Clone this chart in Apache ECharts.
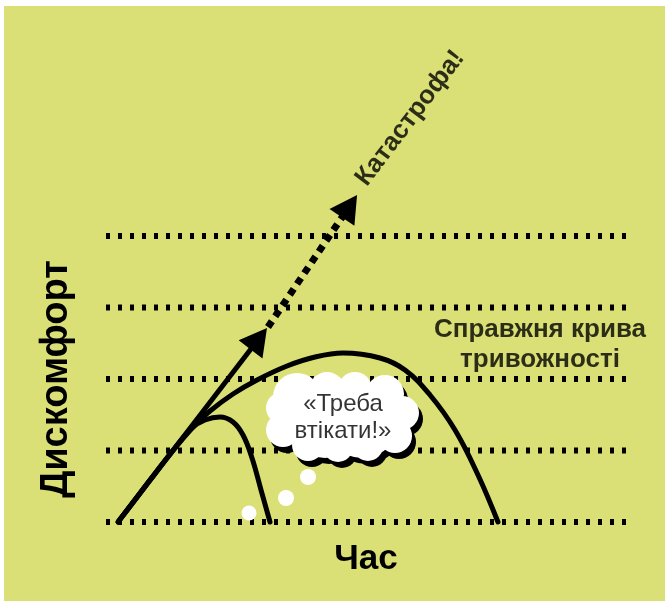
<!DOCTYPE html>
<html>
<head>
<meta charset="utf-8">
<script src="https://cdn.jsdelivr.net/npm/echarts@6/dist/echarts.min.js"></script>
<style>
  html, body { margin: 0; padding: 0; background: #ffffff; }
  #chart { position: absolute; left: 4px; top: 6px; width: 661px; height: 595px; }
</style>
</head>
<body>
<div id="chart"></div>
<script>
// ---- data (time on x: 0..100, discomfort on y: levels 0..4) ----
const levels = [0, 1, 2, 3, 4];
const xTitle = 'Час';
const yTitle = 'Дискомфорт';

// "true" anxiety curve
const anxietyCurve = [
  [2.31, 0], [8.46, 0.587], [13.27, 1.035], [17.12, 1.357], [20.00, 1.552],
  [24.42, 1.790], [29.04, 1.986], [34.81, 2.182], [40.19, 2.308], [45.58, 2.364],
  [52.69, 2.294], [57.50, 2.126], [62.31, 1.776], [67.12, 1.287], [71.54, 0.657], [75.38, 0]
];
// short panic curve
const panicCurve = [
  [2.31, 0], [8.46, 0.587], [13.27, 1.035], [16.54, 1.315], [19.04, 1.427],
  [21.92, 1.469], [24.42, 1.399], [26.35, 1.217], [28.08, 0.895], [29.81, 0.448], [31.54, 0]
];
// expected escalation (solid) and catastrophe (dotted) arrows
const escalation = [[2.31, 0], [29.38, 2.564]];
const catastrophe = [[31.15, 2.727], [46.83, 4.417]];

// thought cloud puffs [x, y, diameter]
const cloudPuffs = [
  [36.73, 1.748, 48], [42.50, 1.846, 36], [47.88, 1.860, 34], [53.65, 1.790, 38],
  [56.92, 1.524, 34], [55.58, 1.203, 34], [50.38, 1.063, 30], [44.62, 1.049, 30],
  [38.85, 1.077, 32], [34.04, 1.287, 34], [33.85, 1.594, 32],
  [42.12, 1.427, 76], [49.23, 1.427, 76]
];
const thoughtDots = [[27.50, 0.126, 15], [34.62, 0.336, 16], [38.85, 0.629, 16]];

// annotations
const cloudText = '«Треба\nвтікати!»';
const cloudTextPos = [45.58, 1.455];
const curveText = 'Справжня крива\nтривожності';
const curveTextPos = [83.46, 2.475];
const catastropheText = 'Катастрофа!';
const catastropheTextPos = [49.04, 4.741];

const FONT = '"Liberation Sans", Arial, sans-serif';

const chart = echarts.init(document.getElementById('chart'), null, { renderer: 'canvas' });

const series = [];
levels.forEach(function (lv) {
  series.push({
    type: 'line', silent: true, symbol: 'none', clip: false, z: 1,
    data: [[0, lv], [100, lv]],
    lineStyle: { color: '#000', width: 6, type: [4, 8], cap: 'butt' }
  });
});
[anxietyCurve, panicCurve].forEach(function (c) {
  series.push({
    type: 'line', silent: true, symbol: 'none', smooth: 0.4, clip: false, z: 3,
    data: c,
    lineStyle: { color: '#000', width: 5, cap: 'round' }
  });
});
function arrowSeries(seg, style) {
  return {
    type: 'line', silent: true, clip: false, data: [], z: 3,
    markLine: {
      silent: true, animation: false,
      label: { show: false },
      lineStyle: style,
      emphasis: { disabled: true },
      data: [[
        { coord: seg[0], symbol: 'none' },
        { coord: seg[1], symbol: 'triangle', symbolSize: [30, 27] }
      ]]
    }
  };
}
series.push(arrowSeries(escalation, { color: '#000', width: 5, type: 'solid' }));
series.push(arrowSeries(catastrophe, { color: '#000', width: 7, type: [7, 6], cap: 'butt' }));

series.push({
  type: 'scatter', silent: true, clip: false, z: 4,
  data: cloudPuffs, symbolSize: function (v) { return v[2]; }, symbolOffset: [4, 6],
  itemStyle: { color: '#000', opacity: 1 }
});
series.push({
  type: 'scatter', silent: true, clip: false, z: 5,
  data: cloudPuffs, symbolSize: function (v) { return v[2]; },
  itemStyle: { color: '#fff', opacity: 1 }
});
series.push({
  type: 'scatter', silent: true, clip: false, z: 5,
  data: thoughtDots, symbolSize: function (v) { return v[2]; },
  itemStyle: { color: '#fff', opacity: 1 }
});
series.push({
  type: 'scatter', silent: true, clip: false, z: 6, symbolSize: 0,
  data: [
    { value: cloudTextPos, label: { show: true, formatter: cloudText, position: 'inside', align: 'center', verticalAlign: 'middle', fontSize: 24, lineHeight: 27, color: '#000', fontFamily: FONT } },
    { value: curveTextPos, label: { show: true, formatter: curveText, position: 'inside', align: 'center', verticalAlign: 'middle', fontSize: 26, fontWeight: 'bold', lineHeight: 30, color: '#000', fontFamily: FONT } },
    { value: catastropheTextPos, label: { show: true, formatter: catastropheText, position: 'inside', align: 'left', verticalAlign: 'middle', rotate: 52.8, fontSize: 26, fontWeight: 'bold', color: '#000', fontFamily: FONT } }
  ]
});

chart.setOption({
  backgroundColor: '#dbe076',
  animation: false,
  grid: { left: 102, top: 194.25, width: 520, height: 357.5, containLabel: false, outerBoundsMode: 'none' },
  xAxis: {
    type: 'value', min: 0, max: 100,
    axisLine: { show: false, onZero: false }, axisTick: { show: false }, axisLabel: { show: false }, splitLine: { show: false },
    name: xTitle, nameLocation: 'middle', nameGap: -16,
    nameTextStyle: { fontSize: 35, fontWeight: 'bold', color: '#000', fontFamily: FONT }
  },
  yAxis: {
    type: 'value', min: -0.5, max: 4.5,
    axisLine: { show: false, onZero: false }, axisTick: { show: false }, axisLabel: { show: false }, splitLine: { show: false },
    name: yTitle, nameLocation: 'middle', nameRotate: 90, nameGap: 30,
    nameTextStyle: { fontSize: 38, fontWeight: 'bold', color: '#000', fontFamily: FONT }
  },
  series: series
});
</script>
</body>
</html>
